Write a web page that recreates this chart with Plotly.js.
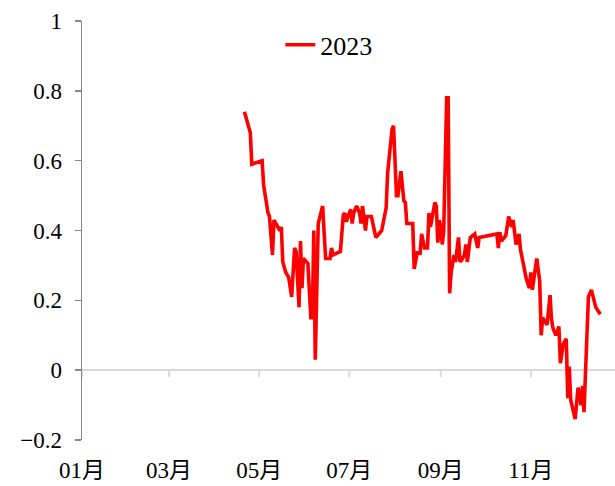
<!DOCTYPE html>
<html>
<head>
<meta charset="utf-8">
<script src="https://cdn.plot.ly/plotly-3.0.1.min.js"></script>
<style>html,body{margin:0;padding:0;background:#fff;}#chart{width:615px;height:486px;}</style>
</head>
<body>
<div id="chart"></div>
<script>
const seriesName = "2023";
const dates = [
"2023-04-21","2023-04-24","2023-04-25","2023-04-26","2023-05-03","2023-05-04","2023-05-07","2023-05-08","2023-05-10","2023-05-11",
"2023-05-14","2023-05-15","2023-05-16","2023-05-17","2023-05-19","2023-05-21","2023-05-23","2023-05-25","2023-05-26","2023-05-28",
"2023-05-29","2023-05-30","2023-05-31","2023-06-03","2023-06-05","2023-06-06","2023-06-07","2023-06-08","2023-06-10","2023-06-13",
"2023-06-15","2023-06-18","2023-06-19","2023-06-20","2023-06-25","2023-06-27","2023-06-28","2023-06-29","2023-07-01","2023-07-02",
"2023-07-03","2023-07-04","2023-07-06","2023-07-08","2023-07-09","2023-07-10","2023-07-12","2023-07-13","2023-07-16","2023-07-19",
"2023-07-23","2023-07-24","2023-07-26","2023-07-27","2023-07-30","2023-07-31","2023-08-02","2023-08-03","2023-08-04","2023-08-05",
"2023-08-07","2023-08-08","2023-08-09","2023-08-13","2023-08-14","2023-08-16","2023-08-18","2023-08-19","2023-08-21","2023-08-23",
"2023-08-24","2023-08-25","2023-08-28","2023-08-29","2023-08-30","2023-08-31","2023-09-01","2023-09-02","2023-09-03","2023-09-05",
"2023-09-06","2023-09-07","2023-09-08","2023-09-10","2023-09-11","2023-09-13","2023-09-14","2023-09-15","2023-09-17","2023-09-18",
"2023-09-19","2023-09-21","2023-09-24","2023-09-26","2023-09-27","2023-10-09","2023-10-10","2023-10-11","2023-10-12","2023-10-15",
"2023-10-17","2023-10-19","2023-10-20","2023-10-22","2023-10-24","2023-10-25","2023-10-29","2023-10-31","2023-11-01","2023-11-02",
"2023-11-05","2023-11-06","2023-11-07","2023-11-08","2023-11-09","2023-11-12","2023-11-14","2023-11-15","2023-11-16","2023-11-18",
"2023-11-20","2023-11-21","2023-11-23","2023-11-25","2023-11-26","2023-11-27","2023-11-28","2023-12-01","2023-12-02","2023-12-03",
"2023-12-05","2023-12-06","2023-12-07","2023-12-10","2023-12-12","2023-12-15","2023-12-18"
];
const values = [
0.74,0.70,0.68,0.59,0.60,0.53,0.45,0.44,0.33,0.43,
0.41,0.40,0.41,0.31,0.28,0.265,0.21,0.35,0.34,0.18,
0.37,0.235,0.32,0.305,0.15,0.15,0.40,0.03,0.42,0.47,
0.32,0.32,0.35,0.33,0.34,0.445,0.45,0.425,0.45,0.46,
0.42,0.45,0.47,0.45,0.42,0.47,0.40,0.44,0.44,0.38,
0.40,0.425,0.465,0.565,0.69,0.70,0.50,0.50,0.545,0.57,
0.485,0.48,0.42,0.42,0.29,0.336,0.335,0.39,0.35,0.35,
0.45,0.41,0.48,0.47,0.365,0.43,0.41,0.36,0.40,0.78,
0.78,0.22,0.28,0.33,0.31,0.38,0.31,0.315,0.33,0.36,
0.31,0.38,0.39,0.35,0.38,0.39,0.35,0.395,0.37,0.385,
0.44,0.41,0.43,0.36,0.39,0.345,0.26,0.235,0.28,0.23,
0.32,0.28,0.255,0.10,0.15,0.13,0.215,0.145,0.12,0.10,
0.125,0.02,0.075,0.09,-0.08,0.01,-0.085,-0.14,-0.10,-0.05,
-0.10,-0.045,-0.12,0.21,0.23,0.18,0.16
];
const tickVals = ["2023-01-01","2023-03-01","2023-05-01","2023-07-01","2023-09-01","2023-11-01"];
const tickText = ["01月","03月","05月","07月","09月","11月"];
const xRange = ["2023-01-01","2023-12-28"];
const yRange = [-0.2, 1];

const fontFam = "'Liberation Serif', 'Noto Sans CJK SC', serif";
const trace = {
  x: dates, y: values, type: "scatter", mode: "lines", name: seriesName,
  line: {color: "#ff0000", width: 3.6}
};
const tickShapes = tickVals.map(v => ({
  type: "line", xref: "x", yref: "y", x0: v, x1: v, y0: 0, y1: -0.02,
  line: {color: "#d9d9d9", width: 2}
}));
const layout = {
  width: 615, height: 486,
  margin: {l: 82, r: 0, t: 21, b: 46},
  paper_bgcolor: "#fff", plot_bgcolor: "#fff",
  font: {family: fontFam, size: 23, color: "#000"},
  showlegend: true,
  legend: {x: 0.372, y: 0.943, xanchor: "left", yanchor: "middle", orientation: "h",
           font: {family: fontFam, size: 26, color: "#000"}, bgcolor: "rgba(0,0,0,0)"},
  xaxis: {type: "date", range: xRange, tickvals: tickVals, ticktext: tickText,
          showgrid: false, zeroline: false, showline: false, ticks: "",
          ticklabelstandoff: 14, tickfont: {family: fontFam, size: 23, color: "#000"}},
  yaxis: {range: yRange, dtick: 0.2, tick0: 0, showgrid: false,
          zeroline: true, zerolinecolor: "#d9d9d9", zerolinewidth: 2,
          showline: true, linecolor: "#868686", linewidth: 1.5,
          ticks: "outside", ticklen: 6, tickcolor: "#868686", tickwidth: 1.5,
          ticklabelstandoff: 8, tickfont: {family: fontFam, size: 23, color: "#000"}},
  shapes: tickShapes
};
Plotly.newPlot("chart", [trace], layout, {displayModeBar: false, staticPlot: true});
</script>
</body>
</html>
